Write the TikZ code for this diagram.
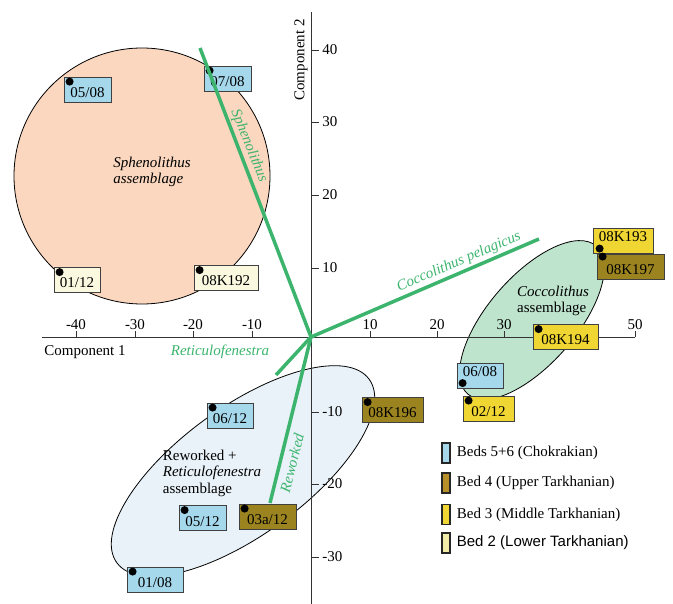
\documentclass[tikz,border=0pt]{standalone}
\usepackage{fontspec}
\setmainfont{Liberation Serif}
\newfontfamily\arialfont{Liberation Sans}
\usetikzlibrary{positioning}
\definecolor{chok}{RGB}{166,216,236}
\definecolor{uptark}{RGB}{155,132,32}
\definecolor{uptarkkey}{RGB}{184,144,42}
\definecolor{midtark}{RGB}{240,214,50}
\definecolor{lowtark}{RGB}{250,248,222}
\definecolor{lowtarkkey}{RGB}{242,236,168}
\definecolor{trendgreen}{RGB}{60,180,110}
\definecolor{peach}{RGB}{250,215,190}
\definecolor{mint}{RGB}{190,228,205}
\definecolor{paleblue}{RGB}{232,242,248}
\tikzset{every node/.style={font=\fontsize{15}{16.5}\selectfont}}
\tikzset{sample/.style={draw=black!75, line width=0.8pt, minimum height=25pt, inner sep=0pt, text height=16pt, text depth=0pt}}
\tikzset{trend/.style={draw=trendgreen, line width=3.5pt}}
\tikzset{trendlabel/.style={text=trendgreen, font=\fontsize{15}{16.5}\selectfont\itshape}}
\tikzset{swatch/.style={draw=black!85, line width=1.3pt, minimum width=8pt, minimum height=20pt, inner sep=0pt}}
\tikzset{axis/.style={draw=black!80, line width=0.8pt}}

\begin{document}
\begin{tikzpicture}[x=1pt,y=-1pt]
			\useasboundingbox (0,0) rectangle (673,604);
			% assemblages
			\draw[fill=peach, line width=0.8pt] (142,176) circle [radius=128];
			\draw[fill=mint, line width=0.8pt, rotate around={49:(532,320)}] (532,320) ellipse [x radius=98, y radius=44];
			\draw[fill=paleblue, line width=0.8pt, rotate around={36:(243,471)}] (243,471) ellipse [x radius=156, y radius=64];
			% axes
			\coordinate (O) at (311,337);
			\draw[axis] (42,337) -- (635,337);
			\draw[axis] (311,12) -- (311,604);
			\foreach \x/\l in {76/-40,135/-30,193/-20,252/-10,370/10,437/20,504/30,635/50}{
				\draw[axis] (\x,337) -- (\x,331) node[above, inner sep=1pt] (xt\x) {\l};
			}
			\draw[axis] (570,337) -- (570,331);
			\foreach \y/\l in {50/40,122/30,195/20,268/10,412/-10,484/-20,557/-30}{
				\draw[axis] (311,\y) -- (319,\y) node[right, inner sep=3pt] (yt\y) {\l};
			}
			\node (xname) at (85,352) {Component 1};
			\node[rotate=90] (yname) at (301,60) {Component 2};
			% samples
			\node[sample, fill=chok, minimum width=47] (s0508) at (87.5,89.5) {05/08};
			\node[sample, fill=chok, minimum width=47] (s0708) at (227.5,78.5) {07/08};
			\node[sample, fill=lowtark, minimum width=46] (s0112) at (77,280) {01/12};
			\node[sample, fill=lowtark, minimum width=64] (s08K192) at (226,278) {08K192};
			\node[sample, fill=uptark, minimum width=67] (s08K197) at (630.5,266.5) {08K197};
			\node[sample, fill=midtark, minimum width=60, text height=2pt] (s08K193) at (623,240.5) {08K193};
			\node[sample, fill=midtark, minimum width=65] (s08K194) at (565.5,337) {08K194};
			\node[sample, fill=chok, minimum width=46, text height=2pt] (s0608) at (480,376) {06/08};
			\node[sample, fill=midtark, minimum width=51] (s0212) at (488.5,408.5) {02/12};
			\node[sample, fill=uptark, minimum width=61] (s08K196) at (392.5,410) {08K196};
			\node[sample, fill=chok, minimum width=46] (s0612) at (230,415.5) {06/12};
			\node[sample, fill=chok, minimum width=47] (s0512) at (202.5,518) {05/12};
			\node[sample, fill=uptark, minimum width=57] (s03a12) at (267.5,516.5) {03a/12};
			\node[sample, fill=chok, minimum width=56] (s0108) at (155,579.5) {01/08};
			\foreach \s in {s0508,s0708,s0112,s08K192,s08K194,s0212,s08K196,s0612,s0512,s03a12,s0108}{
				\fill ([shift={(6,5)}]\s.north west) circle [radius=4];
			}
			\fill ([shift={(6,3)}]s08K197.north west) circle [radius=4];
			\fill ([shift={(7,21)}]s08K193.north west) circle [radius=4];
			\fill ([shift={(6,20)}]s0608.north west) circle [radius=4];
			% loadings
			\coordinate (sph) at (200,48);
			\coordinate (cocc) at (539,239);
			\coordinate (ret) at (276,375);
			\coordinate (rew) at (270,503);
			\draw[trend] (O) -- (sph);
			\draw[trend] (O) -- (cocc);
			\draw[trend] (O) -- (ret);
			\draw[trend] (O) -- (rew);
			\node[trendlabel, rotate=-68] (sphlab) at (249,146) {Sphenolithus};
			\node[trendlabel, rotate=23] (cocclab) at (459,262) {Coccolithus pelagicus};
			\node[trendlabel] (retlab) at (220,352) {Reticulofenestra};
			\node[trendlabel, rotate=76] (rewlab) at (292,463) {Reworked};
			\node[align=left, font=\fontsize{15}{16.5}\selectfont\itshape] (sphtext) at (152,172) {Sphenolithus\\assemblage};
			\node[align=left] (cocctext) at (553,301) {\textit{Coccolithus}\\assemblage};
			\node[align=left] (rewtext) at (212,473) {Reworked +\\\textit{Reticulofenestra}\\assemblage};
			% key
			\node[swatch, fill=chok] (k56) at (446,453) {};
			\node[swatch, fill=uptarkkey] (k4) at (446,483) {};
			\node[swatch, fill=midtark] (k3) at (446,514.5) {};
			\node[swatch, fill=lowtarkkey] (k2) at (446,543) {};
			\node[right=4pt of k56, inner sep=2pt] (k56t) {Beds 5+6 (Chokrakian)};
			\node[right=4pt of k4, inner sep=2pt] (k4t) {Bed 4 (Upper Tarkhanian)};
			\node[right=4pt of k3, inner sep=2pt] (k3t) {Bed 3 (Middle Tarkhanian)};
			\node[right=4pt of k2, inner sep=2pt, font=\fontsize{15}{16.5}\arialfont] (k2t) {Bed 2 (Lower Tarkhanian)};
		\end{tikzpicture}
\end{document}
